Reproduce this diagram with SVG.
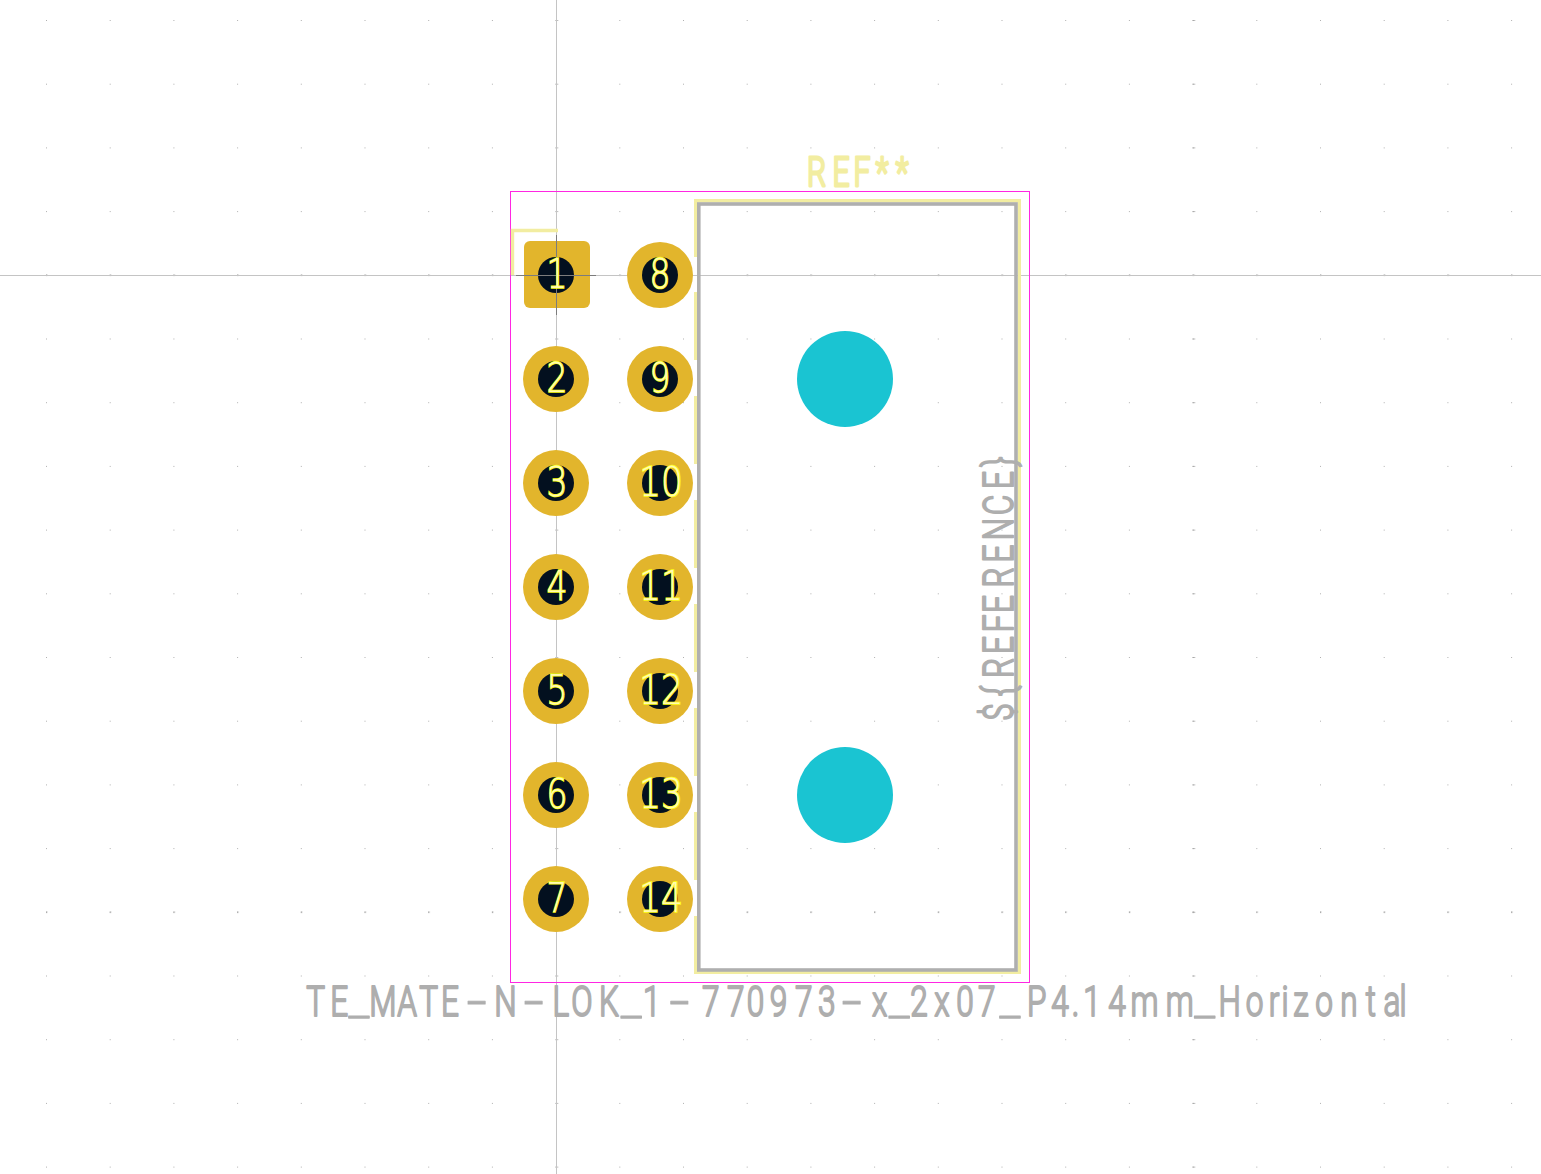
<svg xmlns="http://www.w3.org/2000/svg" width="1541" height="1174" viewBox="0 0 1541 1174">
<style>
.pad{fill:#e2b52c}
.drill{fill:#03101f}
.num{font-family:"DejaVu Sans",sans-serif;font-size:40px;font-weight:200;text-anchor:middle;fill:#fffbb0;stroke:#ffff14;stroke-width:1.5px;paint-order:stroke}
.two{stroke:#ffff14;stroke-width:1.5px}
.hole{fill:#1ac4d2}
.fab{font-family:"Roboto",sans-serif;font-size:42px;font-weight:300;text-anchor:middle;fill:#aeaeae;stroke:#aeaeae;stroke-width:2px;stroke-linejoin:round;stroke-linecap:round}
.dash{font-size:100px;font-weight:100;stroke-width:1px}
.low{font-size:66px;font-weight:100;stroke-width:1.6px}
.ref{font-family:"Roboto",sans-serif;font-size:40px;font-weight:300;text-anchor:middle;fill:#f2eda1;stroke:#f2eda1;stroke-width:2.8px;stroke-linejoin:round}
.silk{fill:none;stroke:#f2eda1;stroke-width:3.4}
.fabl{fill:none;stroke:#afafaf;stroke-width:3.6}
.axis{stroke:#c4c4c4;stroke-width:1}
.anchor{stroke:#7c7c7c;stroke-width:1}
</style>
<defs>
<pattern id="grid" patternUnits="userSpaceOnUse" x="46" y="20" width="63.7" height="63.7"><rect x="0" y="0" width="1" height="1" fill="#b0b0b0"/></pattern>
<pattern id="gridMajor" patternUnits="userSpaceOnUse" x="1192.6" y="20" width="637" height="63.7"><rect x="0" y="0" width="2.4" height="1" fill="#a8a8a8"/></pattern>
<pattern id="gridRow" patternUnits="userSpaceOnUse" x="46" y="911.5" width="63.7" height="637"><rect x="0" y="0" width="1.4" height="1.2" fill="#a0a0a0"/></pattern>
</defs>
<rect width="1541" height="1174" fill="#ffffff"/>
<rect width="1541" height="1174" fill="url(#grid)"/>
<rect width="1541" height="1174" fill="url(#gridMajor)"/>
<rect width="1541" height="1174" fill="url(#gridRow)"/>
<g id="axes">
<line class="axis" x1="556.5" y1="0" x2="556.5" y2="1174"/>
<line class="axis" x1="0" y1="275.5" x2="1541" y2="275.5"/>
</g>
<g id="courtyard"><rect x="510.5" y="191.5" width="519" height="791" fill="none" stroke="#ff26e2" stroke-width="1"/></g>
<g id="silkscreen">
<path class="silk" d="M695.700 257V200.700H1019.300V972.300H695.700V916M695.700 880V812M695.700 776V708M695.700 672V604M695.700 568V500M695.700 464V396M695.700 360V292"/>
<path class="silk" d="M512.500 275V230.500H558" stroke-width="3"/>
</g>
<g id="fabrication"><rect class="fabl" x="698.800" y="204" width="317.200" height="766"/></g>
<g id="hole-a"><circle class="hole" cx="845" cy="379" r="48"/></g>
<g id="hole-b"><circle class="hole" cx="845" cy="795" r="48"/></g>
<g id="pad-1"><rect class="pad" x="524" y="241" width="66" height="67" rx="6"/><circle class="drill" cx="556" cy="275" r="18"/></g>
<g id="anchor"><line class="anchor" x1="516" y1="275.500" x2="596" y2="275.500"/><line class="anchor" x1="556.500" y1="235" x2="556.500" y2="315"/></g>
<g id="pad-1-label"><text class="num" x="557" y="288" textLength="21" lengthAdjust="spacingAndGlyphs">1</text></g>
<g id="pad-2"><circle class="pad" cx="556" cy="379" r="33"/><circle class="drill" cx="556" cy="379" r="18"/><text class="num" x="557" y="392" textLength="21" lengthAdjust="spacingAndGlyphs">2</text></g>
<g id="pad-3"><circle class="pad" cx="556" cy="483" r="33"/><circle class="drill" cx="556" cy="483" r="18"/><text class="num" x="557" y="496" textLength="21" lengthAdjust="spacingAndGlyphs">3</text></g>
<g id="pad-4"><circle class="pad" cx="556" cy="587" r="33"/><circle class="drill" cx="556" cy="587" r="18"/><text class="num" x="557" y="600" textLength="21" lengthAdjust="spacingAndGlyphs">4</text></g>
<g id="pad-5"><circle class="pad" cx="556" cy="691" r="33"/><circle class="drill" cx="556" cy="691" r="18"/><text class="num" x="557" y="704" textLength="21" lengthAdjust="spacingAndGlyphs">5</text></g>
<g id="pad-6"><circle class="pad" cx="556" cy="795" r="33"/><circle class="drill" cx="556" cy="795" r="18"/><text class="num" x="557" y="808" textLength="21" lengthAdjust="spacingAndGlyphs">6</text></g>
<g id="pad-7"><circle class="pad" cx="556" cy="899" r="33"/><circle class="drill" cx="556" cy="899" r="18"/><text class="num" x="557" y="912" textLength="21" lengthAdjust="spacingAndGlyphs">7</text></g>
<g id="pad-8"><circle class="pad" cx="660" cy="275" r="33"/><circle class="drill" cx="660" cy="275" r="18"/><text class="num" x="660" y="288" textLength="21" lengthAdjust="spacingAndGlyphs">8</text></g>
<g id="pad-9"><circle class="pad" cx="660" cy="379" r="33"/><circle class="drill" cx="660" cy="379" r="18"/><text class="num" x="660" y="392" textLength="21" lengthAdjust="spacingAndGlyphs">9</text></g>
<g id="pad-10"><circle class="pad" cx="660" cy="483" r="33"/><circle class="drill" cx="660" cy="483" r="18"/><text class="num two" x="661" y="496" textLength="44" lengthAdjust="spacingAndGlyphs">10</text></g>
<g id="pad-11"><circle class="pad" cx="660" cy="587" r="33"/><circle class="drill" cx="660" cy="587" r="18"/><text class="num two" x="661" y="600" textLength="44" lengthAdjust="spacingAndGlyphs">11</text></g>
<g id="pad-12"><circle class="pad" cx="660" cy="691" r="33"/><circle class="drill" cx="660" cy="691" r="18"/><text class="num two" x="661" y="704" textLength="44" lengthAdjust="spacingAndGlyphs">12</text></g>
<g id="pad-13"><circle class="pad" cx="660" cy="795" r="33"/><circle class="drill" cx="660" cy="795" r="18"/><text class="num two" x="661" y="808" textLength="44" lengthAdjust="spacingAndGlyphs">13</text></g>
<g id="pad-14"><circle class="pad" cx="660" cy="899" r="33"/><circle class="drill" cx="660" cy="899" r="18"/><text class="num two" x="661" y="912" textLength="44" lengthAdjust="spacingAndGlyphs">14</text></g>
<g id="reference-silk"><text class="ref" transform="translate(0 186) scale(.75 1)" x="1088.700 1121.300 1149.300 1176 1202.700" y="0">REF**</text></g>
<g id="reference-fab"><text class="fab" transform="translate(1013 720) rotate(-90) scale(.75 1)" x="10.700 38.600 69.400 100 128.700 154.700 190 222 254.700 286.700 320 344.600" y="0">${REFERENCE}</text></g>
<g id="footprint-name"><text class="fab" transform="translate(0 1016) scale(.75 1)" x="421 452.400 478.500 510.500 542.800 571.500 600 635.800 673.800 711.800 747.600 776 811.800 841.800 869 906.100 947.600 980.900 1007.200 1038.100 1071.500 1102.400 1135.700 1172.800 1199.100 1225.200 1256 1286.700 1315.800 1346.700 1382.400 1413.300 1433.900 1456 1489.300 1526.100 1572.800 1606.200 1639.400 1672.800 1698.600 1713.300 1734.600 1765.400 1798.700 1827.600 1856 1870.600" y="0">TE<tspan class="low">_</tspan>MATE<tspan class="dash" dy="19">-</tspan><tspan dy="-19">N</tspan><tspan class="dash" dy="19">-</tspan><tspan dy="-19">LOK</tspan><tspan class="low">_</tspan>1<tspan class="dash" dy="19">-</tspan><tspan dy="-19">770973</tspan><tspan class="dash" dy="19">-</tspan><tspan dy="-19">x</tspan><tspan class="low">_</tspan>2x07<tspan class="low">_</tspan>P4.14mm<tspan class="low">_</tspan>Horizontal</text></g>
</svg>
